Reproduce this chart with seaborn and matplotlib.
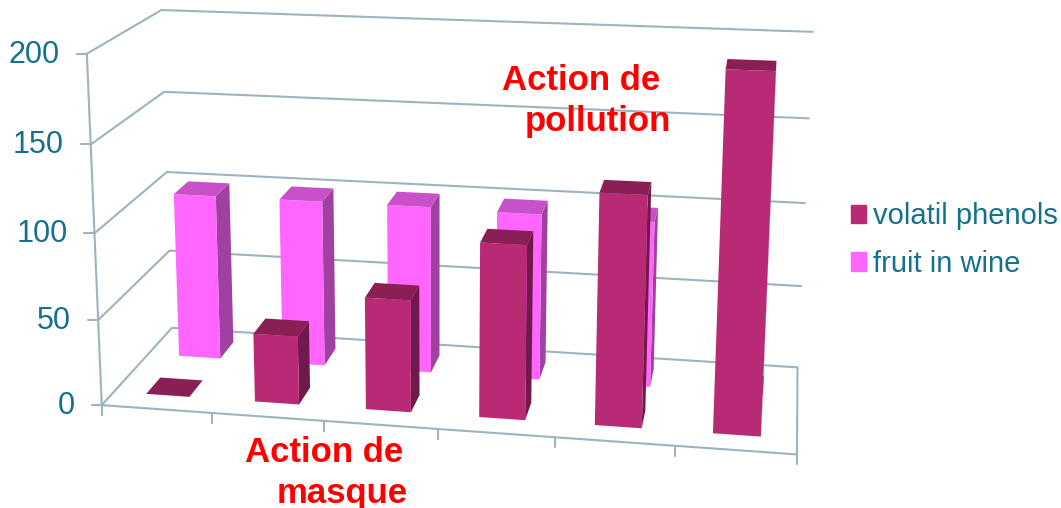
# Recreated 3D column chart: seaborn builds the bars, a fitted perspective
# camera puts them on the page and adds the side and top faces.

import numpy as np
import pandas as pd
import matplotlib
matplotlib.use("Agg")
import matplotlib.pyplot as plt
import seaborn as sns
from matplotlib.patches import Polygon
from matplotlib.transforms import Transform

# ── Data ──────────────────────────────────────────────────────────────────────
samples = ["s1", "s2", "s3", "s4", "s5", "s6"]
volatil_phenols = [0, 40, 65, 100, 131, 200]
fruit_in_wine = [100, 100, 100, 99, 98, 0]
y_ticks = [0, 50, 100, 150, 200]

# ── Style ─────────────────────────────────────────────────────────────────────
sns.set_theme(style="white")
plt.rcParams["font.family"] = ["Liberation Sans", "DejaVu Sans"]

TEAL = "#14708c"
GRID = "#9db3c0"
FACES = {
    "volatil phenols": {"front": "#b82a74", "top": "#8a1f55", "side": "#701a4c", "depth": (0.16, 0.36)},
    "fruit in wine": {"front": "#ff66ff", "top": "#c850c8", "side": "#a040a0", "depth": (0.64, 0.86)},
}

# ── Camera ────────────────────────────────────────────────────────────────────
# (category position, value, depth) -> picture pixel, read off the chart frame
frame_points = [
    (0, 0, 0, 102, 405), (0, 50, 0, 98, 321), (0, 100, 0, 95, 234),
    (0, 150, 0, 90, 145), (0, 200, 0, 87, 53),
    (0, 0, 1, 172, 328), (0, 50, 1, 169, 250), (0, 100, 1, 167, 173),
    (0, 150, 1, 164, 91), (0, 200, 1, 162, 10),
    (6, 0, 1, 797, 367), (6, 50, 1, 802, 287), (6, 100, 1, 805, 203),
    (6, 150, 1, 809, 118), (6, 200, 1, 812, 32),
    (1, 0, 0, 212, 413), (2, 0, 0, 323, 420), (3, 0, 0, 438, 428),
    (4, 0, 0, 556, 437), (5, 0, 0, 675, 447), (6, 0, 0, 797, 454),
]


def fit_camera(points):
    rows, rhs = [], []
    for u, v, d, px, py in points:
        w = (u / 6, v / 200, d, 1)
        rows.append([*w, 0, 0, 0, 0, -px * w[0], -px * w[1], -px * w[2]])
        rows.append([0, 0, 0, 0, *w, -py * w[0], -py * w[1], -py * w[2]])
        rhs += [px, py]
    sol = np.linalg.lstsq(np.array(rows, float), np.array(rhs, float), rcond=None)[0]
    return np.append(sol, 1.0).reshape(3, 4)


CAMERA = fit_camera(frame_points)


def project(u, v, d):
    u, v = np.asarray(u, float), np.asarray(v, float)
    d = np.full_like(u, d) if np.isscalar(d) else np.asarray(d, float)
    world = np.stack([u / 6, v / 200, d, np.ones_like(u)])
    x, y, w = CAMERA @ world
    return np.column_stack([x / w, y / w])


class DepthPlane(Transform):
    # maps seaborn's bar coordinates onto one depth plane of the 3D box
    input_dims = 2
    output_dims = 2

    def __init__(self, plane_depth):
        super().__init__()
        self.plane_depth = plane_depth

    def transform_non_affine(self, values):
        values = np.asarray(values, float)
        return project(values[:, 0] + 0.5, values[:, 1], self.plane_depth)


# ── Bars ──────────────────────────────────────────────────────────────────────
df = pd.DataFrame({
    "sample": samples * 2,
    "value": fruit_in_wine + volatil_phenols,
    "series": ["fruit in wine"] * 6 + ["volatil phenols"] * 6,
})

fig = plt.figure(figsize=(10.61, 5.08), dpi=100)
ax = fig.add_axes([0, 0, 1, 1])
sns.barplot(
    data=df, x="sample", y="value", hue="series", dodge=False, width=0.4,
    palette={k: v["front"] for k, v in FACES.items()},
    saturation=1, linewidth=0, legend=False, ax=ax,
)
containers = dict(zip(["fruit in wine", "volatil phenols"], ax.containers))

# page coordinates are pixels from here on
ax.set_xlim(0, 1061)
ax.set_ylim(508, 0)
ax.set_axis_off()


def grid_line(points):
    xy = np.array(points)
    ax.plot(xy[:, 0], xy[:, 1], color=GRID, lw=1.5, zorder=1, solid_capstyle="round")


# ── Frame ─────────────────────────────────────────────────────────────────────
for tick in y_ticks:
    front = project([0], [tick], 0)[0]
    back = project([0], [tick], 1)[0]
    right = project([6], [tick], 1)[0]
    grid_line([front, back, right])
    grid_line([front, front - (10, 0)])
    ax.text(front[0] - 27, front[1] + 1, str(tick), color=TEAL, fontsize=22,
            ha="right", va="center")

grid_line([project([0], [0], 0)[0], project([0], [200], 0)[0]])
grid_line([project([0], [0], 0)[0], project([6], [0], 0)[0], project([6], [0], 1)[0]])
for pos in range(7):
    base = project([pos], [0], 0)[0]
    grid_line([base, base + (0, 10)])

# ── 3D faces ──────────────────────────────────────────────────────────────────
for order, name in enumerate(["fruit in wine", "volatil phenols"]):
    face = FACES[name]
    near, far = face["depth"]
    for bar in containers[name]:
        left = bar.get_x() + 0.5
        right = left + bar.get_width()
        height = bar.get_height()
        z = 2 + order * 3
        bar.set_transform(DepthPlane(near) + ax.transData)
        bar.set_clip_on(False)
        bar.set_zorder(z + 1)

        top = np.vstack([
            project([left, right], [height] * 2, near),
            project([right, left], [height] * 2, far),
        ])
        ax.add_patch(Polygon(top, color=face["top"], zorder=z + 2, lw=0))
        if height > 0:
            side = np.vstack([
                project([right, right], [0, height], near),
                project([right, right], [height, 0], far),
            ])
            ax.add_patch(Polygon(side, color=face["side"], zorder=z, lw=0))

# ── Annotations and legend ────────────────────────────────────────────────────
for x, y, label in [(581, 80, "Action de"), (598, 121, "pollution"),
                    (324, 452, "Action de"), (342, 493, "masque")]:
    ax.text(x, y, label, color="#ff0000", fontsize=25, fontweight="bold",
            ha="center", va="center", zorder=10)

handles = [plt.Rectangle((0, 0), 1, 1, color=FACES[name]["front"]) for name in FACES]
ax.legend(handles, list(FACES), loc="center left", bbox_to_anchor=(851 / 1061, 1 - 240 / 508),
          frameon=False, fontsize=21, labelcolor=TEAL, borderpad=0, borderaxespad=0,
          handlelength=0.52, handleheight=0.6, handletextpad=0.25, labelspacing=0.68)

fig.savefig("out.png", dpi=100)
